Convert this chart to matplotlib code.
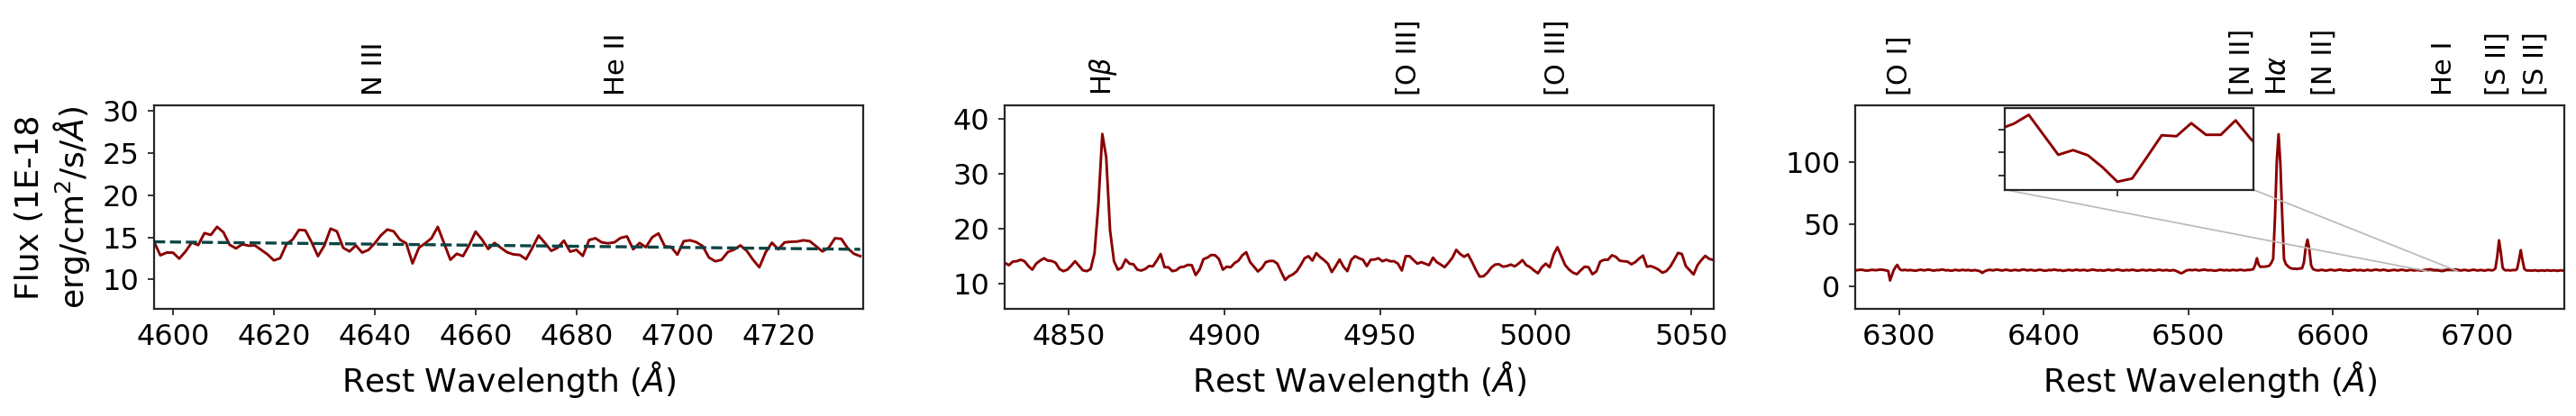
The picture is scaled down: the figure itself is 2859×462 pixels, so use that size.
import numpy as np
import matplotlib
matplotlib.use("Agg")
import matplotlib.pyplot as plt
from matplotlib.ticker import MultipleLocator
from mpl_toolkits.axes_grid1.inset_locator import mark_inset

# --- panel 1: N III / He II region ---
flux1 = [14.47, 12.87, 13.19, 13.19, 12.48, 13.33, 14.40, 14.08, 15.50, 15.28,
         16.24, 15.60, 14.11, 13.69, 14.18, 14.01, 14.04, 13.51, 12.98, 12.27,
         12.52, 14.18, 14.75, 15.89, 15.82, 14.40, 12.77, 14.01, 16.03, 15.71,
         13.76, 13.33, 14.04, 13.19, 13.51, 14.29, 15.25, 15.92, 15.71, 14.72,
         14.29, 11.91, 13.76, 14.29, 14.89, 16.24, 14.29, 12.34, 13.05, 12.77,
         14.11, 15.67, 14.75, 13.62, 14.33, 13.76, 13.23,
         12.98, 12.91, 12.41, 13.76, 15.21, 14.33, 13.40, 13.76, 14.61, 13.30,
         13.51, 12.80, 14.68, 14.89, 14.40, 14.29, 14.40, 14.93, 15.11, 13.58,
         14.33, 13.83, 15.00, 15.46, 13.94, 13.87, 12.94, 14.54, 14.65, 14.43,
         13.97, 12.62, 12.16, 12.34, 13.26, 13.55, 14.04, 13.40, 12.34, 11.45,
         13.23, 14.36, 13.58, 14.40, 14.47, 14.50, 14.65, 14.54, 13.94, 13.33,
         13.76, 14.89, 14.82, 13.72, 13.05, 12.77]
wl1 = 4596.25 + 1.25 * np.arange(len(flux1))
cont1 = [14.47, 13.58]          # continuum fit at both ends
lines1 = ["N III", "He II"]
lines1_wl = [4640, 4688]

# --- panel 2: Hbeta / [O III] region ---
flux2 = [13.82, 13.44, 14.09, 14.15, 14.42, 14.15, 13.27, 12.62, 13.71, 14.26,
         14.69, 14.26, 14.20, 13.87, 12.73, 12.35, 12.62, 13.33, 14.15, 13.33,
         12.51, 12.35, 12.73, 15.62, 24.62, 37.28, 33.07, 19.71, 14.15, 12.62,
         13.00, 14.47, 13.71, 13.60, 12.62, 12.46, 12.73, 13.27, 13.22, 14.26,
         15.46, 13.06, 13.06, 12.35, 12.51, 13.06, 13.16, 13.49, 13.44, 11.64,
         12.62, 14.53, 14.80, 15.29, 15.24, 14.53, 12.62, 13.16, 13.06, 13.82,
         14.26, 15.24, 15.78, 13.98, 13.16, 12.29, 12.89, 13.98, 14.20, 14.20,
         13.71, 12.18, 10.76, 11.42, 11.75, 12.35, 13.44, 14.69, 15.07, 14.26,
         15.62, 14.91, 14.36, 13.71, 12.18, 13.27, 14.47, 13.16, 12.35, 14.42,
         15.07, 14.69,
         14.42, 13.27, 14.42, 14.47, 14.69, 14.15, 14.42, 14.15, 14.15, 13.71,
         12.46, 15.07, 15.07, 14.36, 13.71, 13.98, 13.71, 13.44, 14.80, 13.98,
         13.55, 13.06, 13.87, 14.80, 16.22, 15.46, 14.96, 15.40, 14.09, 12.62,
         11.36, 11.42, 12.07, 13.00, 13.55, 13.60, 13.16, 13.27, 13.55, 13.22,
         13.71, 14.36, 13.44, 13.06, 12.46, 11.96, 13.06, 13.71, 13.06, 15.35,
         16.71, 15.07, 13.44, 12.62, 12.07, 11.80, 12.51, 13.16, 13.06, 11.80,
         12.29, 14.09, 14.42, 14.42, 15.24, 14.96, 14.26, 14.15, 14.09, 13.60,
         13.98, 14.64, 15.18, 13.16, 13.27, 13.00, 12.62, 12.07, 12.35, 13.16,
         14.36, 15.67, 15.46, 13.27, 12.51, 11.75, 13.44, 14.36, 15.13, 14.58,
         14.40]
wl2 = 4829.5 + 1.25 * np.arange(len(flux2))
lines2 = ["H$\\beta$", "[O III]", "[O III]"]
lines2_wl = [4861, 4959, 5007]

# --- panel 3: [O I] / Halpha / [S II] region ---
flux3 = [
    # 6270 - 6291
    12.9, 13.1, 13.3, 13.4, 13.2, 12.9, 12.7, 12.8, 13.1, 13.3, 13.2, 13.0,
    13.2, 13.4, 13.5, 13.3, 13.1, 12.8,
    # [O I] 6300 feature
    12.4, 4.8, 9.0, 13.0, 15.5, 17.3, 14.5, 13.2,
    13.0, 13.3, 13.1, 12.9, 13.2, 13.0, 12.8, 12.6, 12.9, 13.2, 13.4, 13.1,
    12.9, 13.2, 13.5, 13.3, 13.0, 12.7, 12.9, 13.2, 13.0, 13.4, 13.6, 13.2,
    12.9, 13.1, 12.8, 12.6, 12.9, 13.3, 13.1, 12.8, 13.0, 13.3, 13.1,
    12.9, 13.2, 13.0, 12.7, 12.9, 13.1, 12.8, 12.5, 12.0, 10.8, 11.9, 12.6,
    13.0, 13.3, 13.1, 12.9, 13.2, 13.5, 13.3,
    13.0, 12.8, 13.1, 13.4, 13.2, 12.9, 12.7, 13.0, 13.3, 13.1, 12.8, 13.0,
    13.4, 13.6, 13.2, 12.9, 13.1, 13.3, 13.0, 12.7,
    12.9, 13.2, 13.4, 13.1, 12.8, 12.6, 12.9, 13.2, 13.0, 13.3, 13.5, 13.2,
    12.9, 13.1, 12.8, 12.5, 12.8, 13.1, 13.3, 13.0,
    12.8, 13.1, 13.4, 13.2, 12.9, 13.0, 13.3, 13.1, 12.7, 12.9, 13.2, 13.5,
    13.3, 13.0, 12.8, 13.1, 12.9, 12.6, 12.9, 13.2,
    13.4, 13.1, 12.8, 13.0, 13.3, 13.6, 13.2, 12.9, 12.7, 13.0, 13.2, 12.9,
    13.1, 13.4, 13.2, 12.8, 12.6, 12.9, 13.1, 13.3,
    13.0, 12.8, 13.1, 13.3, 13.0, 12.7, 12.9, 13.2, 13.4, 13.1, 12.8, 13.0,
    13.2, 12.9, 12.7, 13.0, 13.1, 12.6, 12.0, 11.2,
    10.6, 11.0, 12.0, 12.8, 13.1, 13.3, 13.0, 13.2, 13.4, 13.1,
    12.8, 13.1, 13.3, 13.5, 13.2, 12.9, 13.1, 13.0, 12.7, 12.6, 12.9, 13.2,
    13.4, 13.1, 12.9, 13.2, 13.0, 12.8, 13.1, 13.3,
    13.0, 12.9, 13.2, 13.4, 13.1, 12.9, 13.0, 13.3, 13.2, 13.5, 13.8,
    # [N II] 6548, Halpha, [N II] 6583
    17.0, 22.6, 17.5, 15.6, 15.9, 15.8, 16.0, 16.2, 16.8, 19.0, 22.0, 55.0,
    100.0, 122.0, 98.0, 57.0, 22.0, 18.0, 16.5, 15.2, 14.5, 14.2, 14.3, 14.0,
    14.2, 14.5, 14.5, 19.0, 31.0, 37.5, 30.0, 17.0,
    14.0, 13.3, 13.0, 12.8, 13.1, 13.3, 13.0, 12.7, 12.9, 13.2, 13.4, 13.1,
    12.8, 13.0, 13.3, 13.5,
    13.2, 12.9, 13.1, 12.8, 12.6, 12.9, 13.2, 13.4, 13.1, 12.9, 13.2, 13.0,
    12.7, 12.9, 13.3, 13.1,
    12.8, 13.0, 13.3, 13.5, 13.2, 12.9, 13.1, 13.4, 13.2, 12.8, 12.6, 12.9,
    13.1, 13.3, 13.0, 12.8,
    13.1, 13.4, 13.2, 12.9, 12.7, 13.0, 13.3, 13.1, 12.8, 13.0, 13.2, 12.9,
    12.7, 13.0, 13.3, 13.5,
    # He I region (zoomed in the inset)
    13.62, 13.81, 13.38, 12.95, 13.05, 12.94, 12.68, 12.37, 12.44, 12.90,
    13.37, 13.35, 13.63, 13.38, 13.38, 13.69,
    13.3, 13.0, 12.8, 13.1, 13.3, 13.0, 12.7, 12.9, 13.2, 13.4, 13.1, 12.8,
    13.0, 13.2, 12.9, 12.7, 13.0, 13.3, 13.1, 12.9, 13.2,
    # [S II] 6716, 6731
    14.5, 24.0, 37.0, 27.0, 15.0, 13.2, 12.9, 13.1, 12.8, 13.0, 13.2, 13.0,
    14.0, 21.0, 29.1, 21.0, 14.0, 13.0,
    12.7, 12.9, 12.6, 12.8, 13.0, 12.7, 12.5, 12.8, 12.9, 12.6, 12.8, 13.0,
    12.7, 12.6, 12.9, 12.8, 12.5, 12.7, 12.9, 12.8, 12.6]
assert len(flux3) == 393, len(flux3)
wl3 = 6270.0 + 1.25 * np.arange(len(flux3))
lines3 = ["[O I]", "[N II]", "H$\\alpha$", "[N II]", "He I", "[S II]", "[S II]"]
lines3_wl = [6300, 6537, 6562, 6594, 6677, 6714, 6740]

RED = "#8b0000"
SPINE = "#262626"

fig, axes = plt.subplots(1, 3, figsize=(28.59, 4.62), dpi=100)
fig.subplots_adjust(left=0.0598, right=0.9956, bottom=0.258, top=0.747,
                    wspace=0.1995)


def style_axes(ax):
    for sp in ax.spines.values():
        sp.set_color(SPINE)
        sp.set_linewidth(1.6)
    ax.tick_params(axis="both", labelsize=23, length=5, width=1.3,
                   color=SPINE, direction="out", pad=7)
    ax.set_xlabel("Rest Wavelength ($\\AA$)", fontsize=26, labelpad=6)


def label_lines(ax, names, waves):
    for name, w in zip(names, waves):
        ax.annotate(name, xy=(w, 1.0), xycoords=("data", "axes fraction"),
                    xytext=(0, 8), textcoords="offset points",
                    rotation=90, ha="center", va="bottom", fontsize=22)


ax1, ax2, ax3 = axes

# panel 1
ax1.plot(wl1, flux1, color=RED, lw=2.1)
ax1.plot([wl1[0], wl1[-1]], cont1, ls="--", color="#0c4444", lw=2.4)
ax1.set_xlim(wl1[0], wl1[-1] + 0.6)
ax1.set_ylim(6.55, 30.64)
ax1.xaxis.set_major_locator(MultipleLocator(20))
ax1.yaxis.set_major_locator(MultipleLocator(5))
ax1.set_ylabel("Flux (1E-18\nerg/cm$^2$/s/$\\AA$)", fontsize=26, labelpad=8)
style_axes(ax1)
label_lines(ax1, lines1, lines1_wl)

# panel 2
ax2.plot(wl2, flux2, color=RED, lw=2.1)
ax2.set_xlim(wl2[0] - 0.1, wl2[-1] + 0.3)
ax2.set_ylim(5.53, 42.5)
ax2.xaxis.set_major_locator(MultipleLocator(50))
ax2.yaxis.set_major_locator(MultipleLocator(10))
style_axes(ax2)
label_lines(ax2, lines2, lines2_wl)

# panel 3
ax3.plot(wl3, flux3, color=RED, lw=2.1)
ax3.set_xlim(6269.8, 6760.4)
ax3.set_ylim(-17.8, 145.2)
ax3.xaxis.set_major_locator(MultipleLocator(100))
ax3.yaxis.set_major_locator(MultipleLocator(50))
style_axes(ax3)
label_lines(ax3, lines3, lines3_wl)

# inset zoom on the He I region
axins = ax3.inset_axes([0.211, 0.585, 0.35, 0.40])
axins.plot(wl3, flux3, color=RED, lw=2.1)
axins.set_xlim(6665.5, 6686.5)
axins.set_ylim(12.2, 13.95)
axins.set_xticks([6675])
axins.set_yticks([12.5, 13.0, 13.5])
axins.set_xticklabels([])
axins.set_yticklabels([])
for sp in axins.spines.values():
    sp.set_color(SPINE)
    sp.set_linewidth(1.6)
axins.tick_params(length=5, width=1.3, color=SPINE)
mark_inset(ax3, axins, loc1=3, loc2=4, fc="none", ec="0.72", lw=1.2)

fig.savefig("out.png", dpi=100)
